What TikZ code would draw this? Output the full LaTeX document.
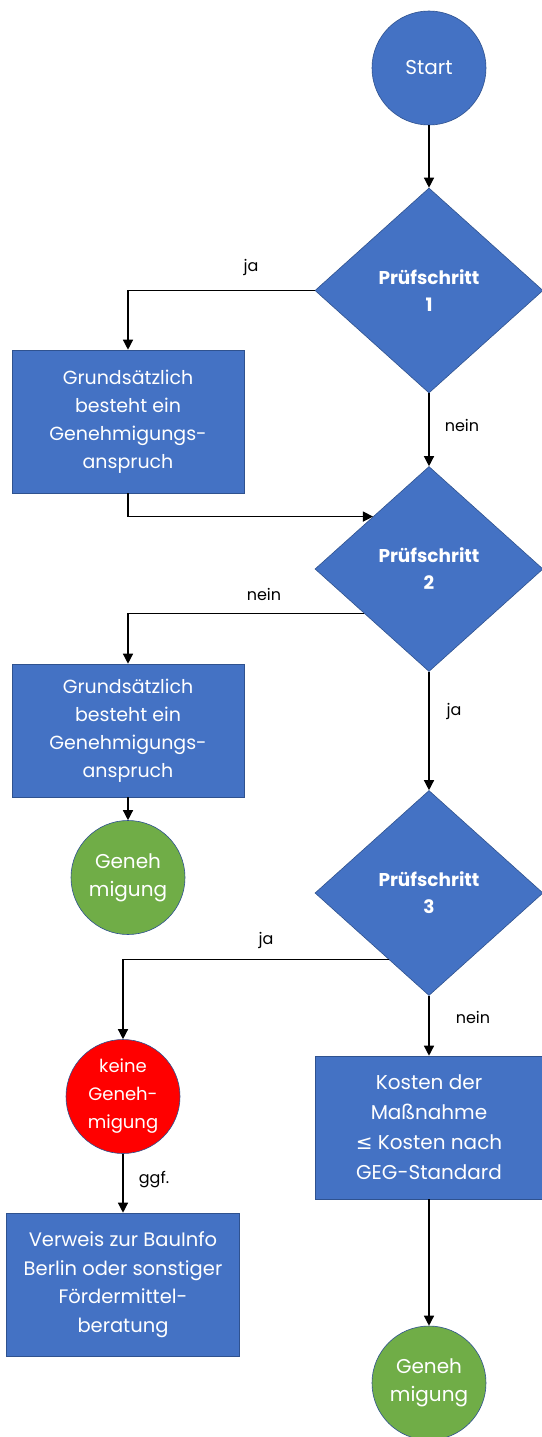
\documentclass[tikz,border=0pt]{standalone}
\usepackage{fontspec}
\setmainfont{Poppins}
\newfontfamily\symfont{DejaVu Sans}
\usetikzlibrary{shapes.geometric,arrows.meta,calc}
\definecolor{ofblue}{HTML}{4472C4}
\definecolor{ofedge}{HTML}{2F528F}
\definecolor{ofgreen}{HTML}{70AD47}
\definecolor{ofred}{HTML}{FF0000}
\begin{document}
\begin{tikzpicture}[x=1pt,y=-1pt,
  base/.style={draw=ofedge, line width=0.6pt, text=white, align=center, inner sep=0pt},
  boxnode/.style={base, fill=ofblue, rectangle, minimum width=232pt, minimum height=143pt, font=\fontsize{19}{28}\selectfont},
  roundnode/.style={base, circle, minimum size=114pt, font=\fontsize{20}{28}\selectfont},
  decision/.style={base, fill=ofblue, diamond, minimum width=228pt, minimum height=205pt, font=\bfseries\fontsize{18.5}{27}\selectfont},
  arr/.style={draw=black, line width=1.3pt, -{Triangle[length=10pt,width=10pt]}},
  lbl/.style={font=\fontsize{16}{18}\selectfont, inner sep=0pt}]
\fill[white] (0,0) rectangle (541,1437);
\useasboundingbox (0,0) rectangle (541,1437);

\node[roundnode, fill=ofblue] (start) at (429,68) {Start};
\node[decision] (d1) at (429,290.5) {Prüfschritt\\1};
\node[boxnode] (box1) at (128,421.5) {Grundsätzlich\\besteht ein\\Genehmigungs-\\anspruch};
\node[decision] (d2) at (429,569) {Prüfschritt\\2};
\node[boxnode, minimum height=133pt] (box2) at (128,730.5) {Grundsätzlich\\besteht ein\\Genehmigungs-\\anspruch};
\node[roundnode, fill=ofgreen] (g1) at (128,877.5) {Geneh\\migung};
\node[decision] (d3) at (429,893) {Prüfschritt\\3};
\node[roundnode, fill=ofred, font=\fontsize{18}{28}\selectfont] (red) at (123,1096.5) {keine\\Geneh-\\migung};
\node[boxnode, minimum width=233pt, font=\fontsize{19.5}{28.5}\selectfont] (box3) at (123,1284.5) {Verweis zur BauInfo\\Berlin oder sonstiger\\Fördermittel-\\beratung};
\node[boxnode, minimum width=228pt, font=\fontsize{20}{30}\selectfont] (box4) at (429,1127.5) {Kosten der\\Maßnahme\\{\symfont ≤} Kosten nach\\GEG-Standard};
\node[roundnode, fill=ofgreen] (g2) at (429,1383) {Geneh\\migung};

\coordinate (p1) at ($(d2.north)!0.49!(d2.west)$);
\coordinate (p2) at ($(d2.west)!0.43!(d2.south)$);
\coordinate (p3) at ($(d3.west)!0.65!(d3.south)$);

\draw[arr] (start.south) -- (d1.north);
\draw[arr] (d1.west) -| (box1.north);
\draw[arr] (d1.south) -- (d2.north);
\draw[arr] (box1.south) |- (p1);
\draw[arr] (p2) -| (box2.north);
\draw[arr] (d2.south) -- (d3.north);
\draw[arr] (box2.south) -- (g1.north);
\draw[arr] (p3) -| (red.north);
\draw[arr] (red.south) -- (box3.north);
\draw[arr] (d3.south) -- (box4.north);
\draw[arr] (box4.south) -- (g2.north);

\node[lbl] (l1) at (251,267) {ja};
\node[lbl] (l2) at (462,425) {nein};
\node[lbl] (l3) at (264,594) {nein};
\node[lbl] (l4) at (454,711) {ja};
\node[lbl] (l5) at (266,940) {ja};
\node[lbl] (l6) at (473,1017) {nein};
\node[lbl] (l7) at (154,1180) {ggf.};
\end{tikzpicture}
\end{document}
